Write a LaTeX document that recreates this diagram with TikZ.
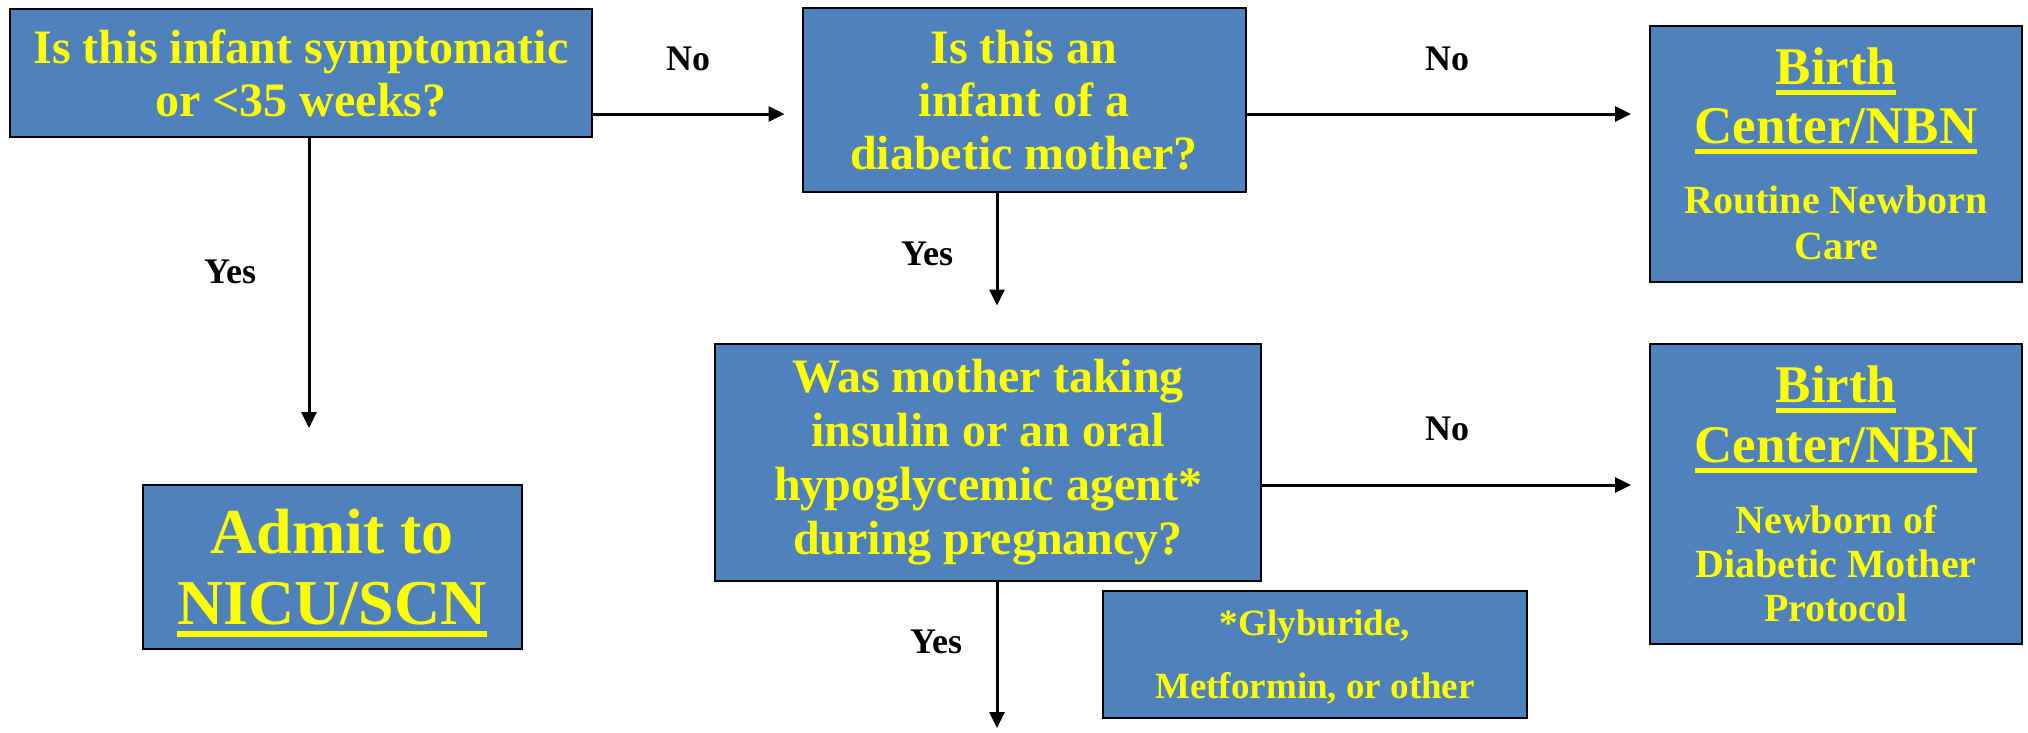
\documentclass[tikz,border=0pt]{standalone}
\usepackage{fontspec}
\setmainfont{Liberation Serif}
\usetikzlibrary{arrows.meta}
\definecolor{boxblue}{HTML}{4F81BD}
\definecolor{txtyellow}{HTML}{FFFF00}
\newcommand{\myul}[1]{\setbox0\hbox{#1}\rlap{\smash{\rule[-0.2em]{\wd0}{0.1em}}}\box0}
\newcommand{\fsz}[2]{\fontsize{#1}{#2}\selectfont}
\begin{document}
\begin{tikzpicture}[x=1pt,y=-1pt,
  box/.style={draw=black,line width=2pt,fill=boxblue,text=txtyellow,align=center,inner sep=0pt},
  lbl/.style={font=\bfseries\fsz{36}{40},text=black,inner sep=0pt},
  arr/.style={line width=3pt,-{Triangle[length=16pt,width=15pt]}}
]
\useasboundingbox (0,0) rectangle (2028,732);
\node[box,minimum width=582pt,minimum height=128pt,font=\bfseries\fsz{48}{53}] (q1) at (301,73) {Is this infant symptomatic\\or <35 weeks?};
\node[box,minimum width=443pt,minimum height=184pt,font=\bfseries\fsz{48}{53}] (q2) at (1024,100) {Is this an\\infant of a\\diabetic mother?};
\node[box,minimum width=372pt,minimum height=256pt,font=\bfseries\fsz{40}{46}] (r1) at (1836,154) {{\fsz{53}{59}\myul{Birth}}\\[13pt]{\fsz{53}{59}\myul{Center/NBN}}\\[24pt]Routine Newborn\\Care};
\node[box,minimum width=379pt,minimum height=164pt,font=\bfseries\fsz{64}{71}] (a1) at (332,567) {Admit to\\\myul{NICU/SCN}};
\node[box,minimum width=546pt,minimum height=237pt,font=\bfseries\fsz{48}{54}] (q3) at (988,462) {Was mother taking\\insulin or an oral\\hypoglycemic agent*\\during pregnancy?};
\node[box,minimum width=372pt,minimum height=300pt,font=\bfseries\fsz{40}{44}] (r2) at (1836,494) {{\fsz{53}{59}\myul{Birth}}\\[16pt]{\fsz{53}{59}\myul{Center/NBN}}\\[27pt]Newborn of\\Diabetic Mother\\Protocol};
\node[box,minimum width=424pt,minimum height=127pt,font=\bfseries\fsz{37}{63}] (g) at (1315,654) {\rule{0pt}{32pt}*Glyburide,\\Metformin, or other};
\coordinate (ya) at (0,114);
\coordinate (yb) at (0,485);
\coordinate (xa) at (309,0);
\coordinate (xb) at (997,0);
\coordinate (e3) at (997,728);
\draw[arr,shorten >=17pt] (q1.east |- ya) -- (q2.west |- ya);
\draw[arr,shorten >=18pt] (q2.east |- ya) -- (r1.west |- ya);
\draw[arr,shorten >=56pt] (q1.south -| xa) -- (a1.north -| xa);
\draw[arr,shorten >=37pt] (q2.south -| xb) -- (q3.north -| xb);
\draw[arr,shorten >=18pt] (q3.east |- yb) -- (r2.west |- yb);
\draw[arr] (q3.south -| xb) -- (e3);
\node[lbl] (n1) at (688,59) {No};
\node[lbl] (n2) at (1447,59) {No};
\node[lbl] (n3) at (1447,429) {No};
\node[lbl] (y1) at (230,272) {Yes};
\node[lbl] (y2) at (927,254) {Yes};
\node[lbl] (y3) at (936,642) {Yes};
\end{tikzpicture}
\end{document}
